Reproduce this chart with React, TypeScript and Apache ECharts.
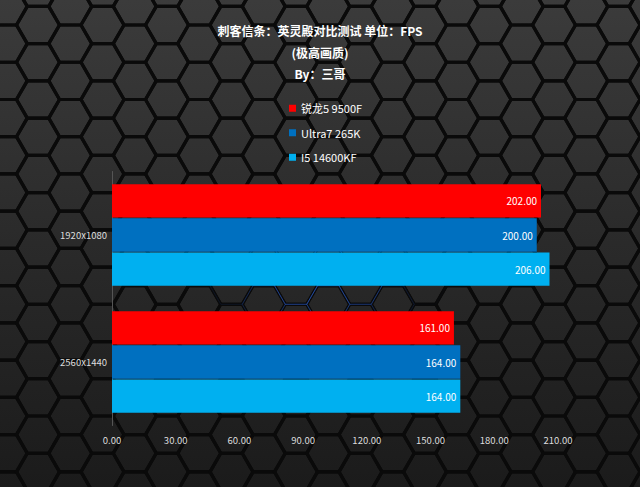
import React, { useEffect, useRef } from "react";
import * as echarts from "echarts";

const categories = ["1920x1080", "2560x1440"];
const seriesNames = ["锐龙5 9500F", "Ultra7 265K", "I5 14600KF"];
const ryzenValues = [202, 161];
const ultraValues = [200, 164];
const i5Values = [206, 164];
const xTicks = { min: 0, max: 210, interval: 30 };
const colors = ["#ff0000", "#0070c0", "#00b0f0"];

const FONT = "'Microsoft YaHei', 'Noto Sans CJK SC', 'Noto Sans', sans-serif";

function hexBackground(W: number, H: number) {
  const R = 21.5;
  const hh = (Math.sqrt(3) / 2) * R;
  const dx = 1.5 * R;
  const dy = 2 * hh;
  const x0 = 38;
  const y0 = 25;
  const els: any[] = [];
  const glowX = 320;
  const glowY = 285;
  for (let i = -2; i < W / dx + 2; i++) {
    for (let j = -2; j < H / dy + 2; j++) {
      const cx = x0 + i * dx;
      const cy = y0 + j * dy + (Math.abs(i) % 2 === 1 ? hh : 0);
      if (cx < -R * 2 || cx > W + R * 2 || cy < -R * 2 || cy > H + R * 2) continue;
      const pts: number[][] = [];
      for (let k = 0; k < 6; k++) {
        const a = (Math.PI / 3) * k;
        pts.push([cx + R * Math.cos(a), cy + R * Math.sin(a)]);
      }
      els.push({
        type: "polygon",
        silent: true,
        z: -100,
        shape: { points: pts },
        style: { fill: "none", stroke: "#0a0a0a", lineWidth: 3.2 },
      });
      const d = Math.hypot(cx - glowX, (cy - glowY) * 1.8);
      if (d < 110) {
        const alpha = (1 - d / 110) * 0.55;
        els.push({
          type: "polygon",
          silent: true,
          z: -99,
          shape: { points: pts },
          style: { fill: "none", stroke: `rgba(50,110,240,${alpha.toFixed(2)})`, lineWidth: 1 },
        });
      }
    }
  }
  return els;
}

export default function App() {
  const ref = useRef<HTMLDivElement>(null);
  useEffect(() => {
    if (!ref.current) return;
    const chart = echarts.init(ref.current, undefined, { renderer: "svg" });
    const valuesList = [ryzenValues, ultraValues, i5Values];
    const option: any = {
      animation: false,
      backgroundColor: new echarts.graphic.LinearGradient(0, 0, 0, 1, [
        { offset: 0, color: "#3b3b3b" },
        { offset: 0.5, color: "#2a2a2a" },
        { offset: 1, color: "#1b1b1b" },
      ]),
      textStyle: { fontFamily: FONT },
      graphic: hexBackground(640, 487),
      title: {
        text: "刺客信条：英灵殿对比测试 单位：FPS\n(极高画质)\nBy：三哥",
        left: "center",
        top: 15,
        textStyle: {
          color: "#ffffff",
          fontSize: 12,
          fontWeight: "bold",
          lineHeight: 21.5,
          fontFamily: FONT,
        },
      },
      legend: {
        orient: "vertical",
        left: 284,
        top: 96,
        itemWidth: 7,
        itemHeight: 7,
        itemGap: 10,
        icon: "rect",
        data: seriesNames,
        textStyle: { color: "#ffffff", fontSize: 11, lineHeight: 14.5, fontFamily: FONT },
      },
      grid: { left: 112, right: 82, top: 171.5, bottom: 61.5, containLabel: false },
      xAxis: {
        type: "value",
        min: xTicks.min,
        max: xTicks.max,
        interval: xTicks.interval,
        axisLine: { show: false },
        axisTick: { show: false },
        splitLine: { show: false },
        axisLabel: {
          color: "#dddddd",
          fontSize: 9.5,
          margin: 10,
          formatter: (v: number) => v.toFixed(2),
        },
      },
      yAxis: {
        type: "category",
        inverse: true,
        data: categories,
        axisLine: { show: true, lineStyle: { color: "#555555", width: 1 } },
        axisTick: { show: false },
        axisLabel: { color: "#dddddd", fontSize: 9.5, margin: 5 },
      },
      series: seriesNames.map((name, idx) => ({
        name,
        type: "bar",
        data: valuesList[idx],
        barGap: "2%",
        barCategoryGap: "20%",
        itemStyle: { color: colors[idx] },
        label: {
          show: true,
          position: "insideRight",
          distance: 4,
          color: "#ffffff",
          fontSize: 10,
          formatter: (p: any) => Number(p.value).toFixed(2),
        },
      })),
    };
    chart.setOption(option);
    return () => chart.dispose();
  }, []);
  return (
    <div
      ref={ref}
      style={{ position: "fixed", left: 0, top: 0, width: 640, height: 487 }}
    />
  );
}
